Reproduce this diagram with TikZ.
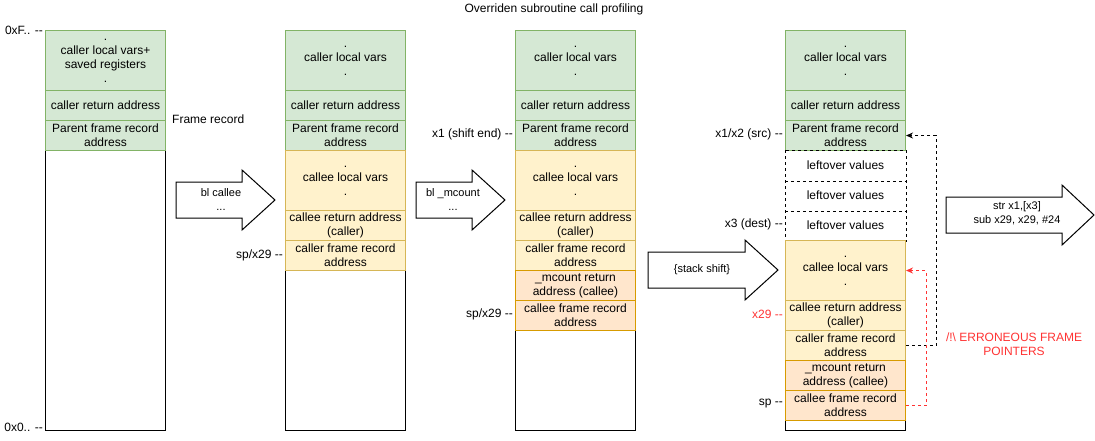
\documentclass[tikz,border=0pt]{standalone}
\usepackage{fontspec}
\setmainfont{Liberation Sans}
\usetikzlibrary{arrows.meta}
\definecolor{gfill}{HTML}{D5E8D4}
\definecolor{gline}{HTML}{82B366}
\definecolor{yfill}{HTML}{FFF2CC}
\definecolor{yline}{HTML}{D6B656}
\definecolor{ofill}{HTML}{FFE6CC}
\definecolor{oline}{HTML}{D79B00}
\definecolor{errred}{HTML}{FF3333}
\begin{document}
\begin{tikzpicture}[x=1pt,y=-1pt,
  every node/.style={font=\fontsize{12}{14}\selectfont, inner sep=0pt, align=center},
  cell/.style={draw, minimum width=120pt, minimum height=30pt, anchor=north west, line width=1pt},
  colbox/.style={cell, fill=white, draw=black},
  gcell/.style={cell, fill=gfill, draw=gline},
  ycell/.style={cell, fill=yfill, draw=yline},
  ocell/.style={cell, fill=ofill, draw=oline},
  lcell/.style={cell, fill=white, draw=none},
  lline/.style={draw=black, line width=1pt, dash pattern=on 3pt off 3pt},
  bigarrow/.style={draw=black, fill=white, line width=1pt, line join=miter},
  arrtext/.style={font=\fontsize{11}{14}\selectfont},
  ptr/.style={line width=1pt, dash pattern=on 3pt off 3pt, -{Stealth[length=7pt,width=6pt]}},
]
\fill[white] (0,0) rectangle (1095,440);
\useasboundingbox (0,0) rectangle (1095,440);

% title
\node (title) at (554,9) {Overriden subroutine call profiling};

% ---------- column 1
\node[colbox, minimum height=280pt] (col1) at (45,150) {};
\node[gcell, minimum height=60pt] (c1loc) at (45,30) {.\\caller local vars+\\saved registers\\.};
\node[gcell] (c1ret) at (45,90) {caller return address};
\node[gcell] (c1par) at (45,120) {Parent frame record\\address};
\node[anchor=east] (l0xf) at (43,30) {0xF.. -{}-};
\node[anchor=east] (l0x0) at (43,427) {0x0.. -{}-};
\node[anchor=west] (lfr) at (172,119) {Frame record};

% ---------- arrow 1
\draw[bigarrow] (176,182) -- (242,182) -- (242,170) -- (275,200) -- (242,230) -- (242,218) -- (176,218) -- cycle;
\node[arrtext] (a1t) at (221,200) {bl callee\\...};

% ---------- column 2
\node[colbox, minimum height=160pt] (col2) at (285,270) {};
\node[gcell, minimum height=60pt] (c2loc) at (285,30) {.\\caller local vars\\.};
\node[gcell] (c2ret) at (285,90) {caller return address};
\node[gcell] (c2par) at (285,120) {Parent frame record\\address};
\node[ycell, minimum height=60pt] (c2cl) at (285,150) {.\\callee local vars\\.};
\node[ycell] (c2cra) at (285,210) {callee return address\\(caller)};
\node[ycell] (c2cfr) at (285,240) {caller frame record\\address};
\node[anchor=east] (l2sp) at (283,255) {sp/x29 -{}-};

% ---------- arrow 2
\draw[bigarrow] (416,182) -- (472,182) -- (472,170) -- (505,200) -- (472,230) -- (472,218) -- (416,218) -- cycle;
\node[arrtext] (a2t) at (453,200) {bl \_mcount\\...};

% ---------- column 3
\node[colbox, minimum height=100pt] (col3) at (515,330) {};
\node[gcell, minimum height=60pt] (c3loc) at (515,30) {.\\caller local vars\\.};
\node[gcell] (c3ret) at (515,90) {caller return address};
\node[gcell] (c3par) at (515,120) {Parent frame record\\address};
\node[ycell, minimum height=60pt] (c3cl) at (515,150) {.\\callee local vars\\.};
\node[ycell] (c3cra) at (515,210) {callee return address\\(caller)};
\node[ycell] (c3cfr) at (515,240) {caller frame record\\address};
\node[ocell] (c3mra) at (515,270) {\_mcount return\\address (callee)};
\node[ocell] (c3efr) at (515,300) {callee frame record\\address};
\node[anchor=east] (l3x1) at (513,134) {x1 (shift end) -{}-};
\node[anchor=east] (l3sp) at (513,314) {sp/x29 -{}-};

% ---------- arrow 3
\draw[bigarrow] (648,252) -- (745,252) -- (745,240) -- (778,270) -- (745,300) -- (745,288) -- (648,288) -- cycle;
\node[arrtext] (a3t) at (702,270) {\{stack shift\}};

% ---------- column 4
\node[colbox, minimum height=10pt] (col4) at (785,420) {};
\node[gcell, minimum height=60pt] (c4loc) at (785,30) {.\\caller local vars\\.};
\node[gcell] (c4ret) at (785,90) {caller return address};
\node[gcell] (c4par) at (785,120) {Parent frame record\\address};
\node[lcell] (c4lv1) at (785,150) {leftover values};
\node[lcell] (c4lv2) at (785,180) {leftover values};
\node[lcell] (c4lv3) at (785,210) {leftover values};
\draw[lline] (c4lv1.north west) rectangle (c4lv3.south east);
\draw[lline] (c4lv1.south west) -- (c4lv1.south east);
\draw[lline] (c4lv2.south west) -- (c4lv2.south east);
\node[ycell, minimum height=60pt] (c4cl) at (785,240) {.\\callee local vars\\.};
\node[ycell] (c4cra) at (785,300) {callee return address\\(caller)};
\node[ycell] (c4cfr) at (785,330) {caller frame record\\address};
\node[ocell] (c4mra) at (785,360) {\_mcount return\\address (callee)};
\node[ocell] (c4efr) at (785,390) {callee frame record\\address};
\node[anchor=east] (l4x1) at (783,134) {x1/x2 (src) -{}-};
\node[anchor=east] (l4x3) at (783,224) {x3 (dest) -{}-};
\node[anchor=east, text=errred] (l4x29) at (783,314) {x29 -{}-};
\node[anchor=east] (l4sp) at (783,404) {sp -{}-};

% pointers
\draw[ptr, black] (c4cfr.east) -- ++(30,0) |- (c4par.east);
\draw[ptr, errred] (c4efr.east) -- ++(20,0) |- (c4cl.east);
\node[text=errred] (err) at (1014,344) {/!\textbackslash{} ERRONEOUS FRAME\\POINTERS};

% ---------- arrow 4
\draw[bigarrow] (946,197) -- (1062,197) -- (1062,185) -- (1094,215) -- (1062,245) -- (1062,233) -- (946,233) -- cycle;
\node[arrtext] (a4t) at (1017,213) {str x1,[x3]\\sub x29, x29, \#24};
\end{tikzpicture}
\end{document}
